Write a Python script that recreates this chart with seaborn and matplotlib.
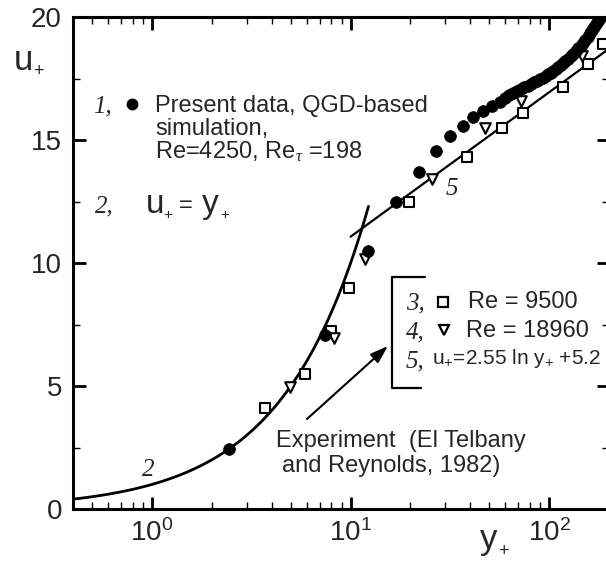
import numpy as np
import pandas as pd
import matplotlib
matplotlib.use("Agg")
import matplotlib.pyplot as plt
import seaborn as sns
from matplotlib.ticker import FixedLocator, FixedFormatter, MultipleLocator, NullFormatter
from matplotlib.lines import Line2D

# ---------------- data ----------------
present_yplus = [2.45, 7.4, 12.2, 16.9, 22.0, 27.0, 31.7, 36.9, 41.4, 46.5,
                 51.6, 56.6, 60, 63, 66, 69, 72, 75, 78, 81, 84, 87, 90, 93, 96,
                 99, 102, 105, 108, 111, 114, 117, 120, 124, 128, 132, 136, 140,
                 144, 148, 152, 156, 160, 164, 168, 172, 176, 180]
present_uplus = [2.45, 7.07, 10.5, 12.5, 13.7, 14.55, 15.16, 15.57, 15.93, 16.18,
                 16.38, 16.55, 16.72, 16.82, 16.92, 17.0, 17.07, 17.14, 17.21, 17.28,
                 17.34, 17.41, 17.47, 17.53, 17.6, 17.67, 17.74, 17.81, 17.88, 17.96,
                 18.04, 18.12, 18.2, 18.3, 18.4, 18.5, 18.6, 18.72, 18.84, 18.96,
                 19.08, 19.2, 19.33, 19.46, 19.6, 19.72, 19.85, 19.97]

re9500_yplus = [3.7, 5.9, 8.0, 9.8, 19.6, 38.4, 58, 74, 117, 157, 187]
re9500_uplus = [4.1, 5.5, 7.25, 9.0, 12.5, 14.3, 15.5, 16.1, 17.15, 18.1, 18.9]

re18960_yplus = [4.97, 8.2, 11.8, 25.7, 47.5, 72, 146]
re18960_uplus = [4.96, 6.95, 10.15, 13.4, 15.5, 16.6, 18.4]

# analytical laws drawn in the chart
viscous_range = (0.4, 12.3)      # u+ = y+
log_range = (10.0, 200.0)        # u+ = 2.55 ln y+ + 5.2
LOG_A, LOG_B = 2.55, 5.2

x_ticks = [1, 10, 100]
x_ticklabels = [r"$\mathregular{10^{0}}$", r"$\mathregular{10^{1}}$", r"$\mathregular{10^{2}}$"]
y_ticks = [0, 5, 10, 15, 20]

# ---------------- styling ----------------
sns.set_theme(style="ticks")
plt.rcParams["font.family"] = ["Liberation Sans", "DejaVu Sans"]
plt.rcParams["mathtext.fontset"] = "custom"
plt.rcParams["mathtext.rm"] = "Liberation Sans"
plt.rcParams["mathtext.it"] = "Liberation Serif:italic"
plt.rcParams["mathtext.bf"] = "Liberation Sans:bold"

W, H = 606, 562
fig = plt.figure(figsize=(W / 100, H / 100), dpi=100)
fig.patch.set_facecolor("white")

def fx(px):
    return px / W

def fy(py):
    return 1 - py / H

TXT = 17  # annotation text size

# axes: left spine at x=73, x=200 at ~609 (off-figure), y=0 at 509, y=20 at 17
ax = fig.add_axes([fx(73), fy(509), (609 - 73) / W, (509 - 17) / H])
ax.set_facecolor("white")
ax.set_xscale("log")

# lines
df_visc = pd.DataFrame({"y": np.geomspace(*viscous_range, 80)})
df_visc["u"] = df_visc["y"]
df_log = pd.DataFrame({"y": np.geomspace(*log_range, 20)})
df_log["u"] = LOG_A * np.log(df_log["y"]) + LOG_B

sns.lineplot(data=df_visc, x="y", y="u", ax=ax, color="black", lw=2.0,
             estimator=None, sort=False)
sns.lineplot(data=df_log, x="y", y="u", ax=ax, color="black", lw=1.6,
             estimator=None, sort=False)

# markers
df_p = pd.DataFrame({"y": present_yplus, "u": present_uplus})
df_a = pd.DataFrame({"y": re9500_yplus, "u": re9500_uplus})
df_b = pd.DataFrame({"y": re18960_yplus, "u": re18960_uplus})

sns.scatterplot(data=df_a, x="y", y="u", ax=ax, marker="s", s=48,
                facecolor="white", edgecolor="black", linewidth=1.5, zorder=3)
sns.scatterplot(data=df_b, x="y", y="u", ax=ax, marker="v", s=58,
                facecolor="white", edgecolor="black", linewidth=1.5, zorder=3)
sns.scatterplot(data=df_p, x="y", y="u", ax=ax, marker="o", s=72,
                color="black", edgecolor="black", linewidth=0.5, zorder=4)

ax.set_xlim(0.4, 200)
ax.set_ylim(0, 20)
ax.set_xlabel("")
ax.set_ylabel("")

ax.xaxis.set_major_locator(FixedLocator(x_ticks))
ax.xaxis.set_major_formatter(FixedFormatter(x_ticklabels))
ax.xaxis.set_minor_locator(matplotlib.ticker.LogLocator(base=10, subs=np.arange(2, 10)))
ax.xaxis.set_minor_formatter(NullFormatter())
ax.yaxis.set_major_locator(FixedLocator(y_ticks))
ax.yaxis.set_minor_locator(MultipleLocator(2.5))

ax.tick_params(which="both", direction="in", top=True, right=True, color="black")
ax.tick_params(which="major", length=9, width=2.0, labelsize=20)
ax.tick_params(which="minor", length=5, width=1.0)
ax.tick_params(axis="x", which="major", pad=7)
ax.tick_params(axis="y", which="major", pad=8)
for s in ax.spines.values():
    s.set_linewidth(2.2)
    s.set_color("black")
    s.set_visible(True)

# ---------------- axis labels (large u / y with small subscript +) ----------------
def big_var(letter, x, base, size=25, subsize=13, sub_dx=19, sub_dy=6):
    fig.text(fx(x), fy(base), letter, fontsize=size, ha="left", va="baseline")
    fig.text(fx(x + sub_dx), fy(base + sub_dy), "+", fontsize=subsize, ha="left", va="baseline")

big_var("u", 14, 70)
big_var("y", 480, 549, sub_dx=18, sub_dy=7)

# ---------------- annotation block 1 / 2 ----------------
serif_it = dict(family=["Liberation Serif", "DejaVu Serif"], style="italic", fontsize=18)
fig.text(fx(93), fy(112), "1,", ha="left", va="baseline", **serif_it)
fig.add_artist(Line2D([fx(132)], [fy(104)], marker="o", markersize=7.5, color="black",
                      transform=fig.transFigure))
fig.text(fx(155), fy(112), "Present data, QGD-based", fontsize=TXT, ha="left", va="baseline")
fig.text(fx(155), fy(135), "simulation,", fontsize=TXT, ha="left", va="baseline")
fig.text(fx(155), fy(159), r"Re=4250, Re$_{\tau}$ =198", fontsize=TXT, ha="left", va="baseline")

fig.text(fx(95), fy(212), "2,", ha="left", va="baseline", **serif_it)
fig.text(fx(146), fy(213), "u", fontsize=24, ha="left", va="baseline")
fig.text(fx(163), fy(219), "+", fontsize=11, ha="left", va="baseline")
fig.text(fx(179), fy(212), "=", fontsize=17, ha="left", va="baseline")
fig.text(fx(202), fy(213), "y", fontsize=24, ha="left", va="baseline")
fig.text(fx(220), fy(219), "+", fontsize=11, ha="left", va="baseline")

# curve labels
fig.text(fx(446), fy(195), "5", ha="left", va="baseline", **serif_it)
fig.text(fx(142), fy(476), "2", ha="left", va="baseline", **serif_it)

# ---------------- experiment legend with bracket ----------------
fig.add_artist(Line2D([fx(425), fx(392), fx(392), fx(421)],
                      [fy(277), fy(277), fy(388), fy(388)],
                      color="black", lw=1.6, transform=fig.transFigure))
fig.text(fx(406), fy(309), "3,", ha="left", va="baseline", **serif_it)
fig.add_artist(Line2D([fx(443)], [fy(302)], marker="s", markersize=7, mfc="white",
                      mec="black", mew=1.6, transform=fig.transFigure))
fig.text(fx(468), fy(308), "Re = 9500", fontsize=TXT, ha="left", va="baseline")
fig.text(fx(406), fy(338), "4,", ha="left", va="baseline", **serif_it)
fig.add_artist(Line2D([fx(444)], [fy(330)], marker="v", markersize=7.5, mfc="white",
                      mec="black", mew=1.6, transform=fig.transFigure))
fig.text(fx(466), fy(337), "Re = 18960", fontsize=TXT, ha="left", va="baseline")
fig.text(fx(406), fy(367), "5,", ha="left", va="baseline", **serif_it)
fig.text(fx(432), fy(364), r"u$_{+}$=2.55 ln y$_{+}$ +5.2", fontsize=15, ha="left", va="baseline")

# arrow
ax.annotate("", xy=(fx(388), fy(346)), xycoords="figure fraction",
            xytext=(fx(307), fy(419)), textcoords="figure fraction",
            arrowprops=dict(arrowstyle="-|>,head_length=0.9,head_width=0.3",
                            color="black", lw=1.5, shrinkA=0, shrinkB=0))

fig.text(fx(276), fy(447), "Experiment  (El Telbany", fontsize=TXT, ha="left", va="baseline")
fig.text(fx(282), fy(472), "and Reynolds, 1982)", fontsize=TXT, ha="left", va="baseline")

fig.savefig("out.png", dpi=100, facecolor="white")
